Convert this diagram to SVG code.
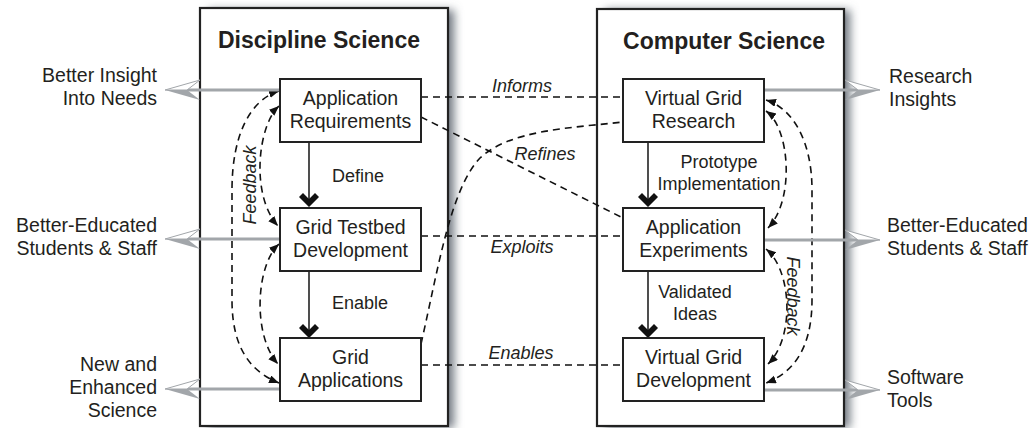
<svg xmlns="http://www.w3.org/2000/svg" xmlns:xlink="http://www.w3.org/1999/xlink" width="1032" height="428" viewBox="0 0 1032 428">
<style>
.outer{fill:#fff;stroke:#222;stroke-width:2.2}
.box{fill:#fff;stroke:#222;stroke-width:2}
.t{font-family:"Liberation Sans",Arial,sans-serif;font-size:19.5px;fill:#231f20}
.title{font-family:"Liberation Sans",Arial,sans-serif;font-size:23px;font-weight:bold;fill:#231f20;text-anchor:middle}
.lab{font-family:"Liberation Sans",Arial,sans-serif;font-size:18px;fill:#231f20}
.it{font-family:"Liberation Sans",Arial,sans-serif;font-size:18px;font-style:italic;fill:#231f20;text-anchor:middle}
.c{text-anchor:middle}
.e{text-anchor:end}
.dash{fill:none;stroke:#111;stroke-width:1.6;stroke-dasharray:7 5}
.fb{fill:none;stroke:#111;stroke-width:1.6;stroke-dasharray:7 5;marker-start:url(#ah);marker-end:url(#ah)}
.solid{stroke:#222;stroke-width:1.6}
.gray{stroke:#a2a6aa;stroke-width:3}
.chev{fill:#111}
</style>
<defs>
<filter id="sh" x="-10%" y="-10%" width="130%" height="120%"><feGaussianBlur stdDeviation="5"/></filter>
<marker id="ah" markerUnits="userSpaceOnUse" markerWidth="11" markerHeight="9" refX="10" refY="4" orient="auto-start-reverse"><path d="M0,0 L10,4 L0,8 z" fill="#111"/></marker>
<g id="gh"><polygon points="0,0 35,-10 22,0" fill="#fff" stroke="#a2a6aa" stroke-width="1"/><polygon points="0,0 22,0 35,10" fill="#a2a6aa"/></g>
</defs>
<g id="frames">
<rect x="208" y="10" width="246" height="418" fill="#6f7780" filter="url(#sh)"/>
<rect x="605" y="10" width="245" height="418" fill="#6f7780" filter="url(#sh)"/>
<rect class="outer" x="200" y="8" width="248" height="418"/>
<rect class="outer" x="597" y="9" width="247" height="417"/>
<text class="title" x="319" y="48">Discipline Science</text>
<text class="title" x="724" y="49">Computer Science</text>
</g>
<g id="connectors">
<line class="dash" x1="421" y1="97" x2="623" y2="97"/>
<line class="dash" x1="421" y1="117" x2="623" y2="218"/>
<path class="dash" d="M421,344 C438,270 450,190 480,158 C510,130 570,128 623,122"/>
<line class="dash" x1="421" y1="236" x2="623" y2="236"/>
<line class="dash" x1="421" y1="365" x2="623" y2="365"/>
<text class="it" x="522" y="92">Informs</text>
<text class="it" x="545" y="160">Refines</text>
<text class="it" x="522" y="253">Exploits</text>
<text class="it" x="521" y="359">Enables</text>
<line class="solid" x1="309" y1="142" x2="309" y2="204"/>
<polygon class="chev" points="299,197 303,193 309,199 315,193 319,197 309,207"/>
<line class="solid" x1="309" y1="271" x2="309" y2="334"/>
<polygon class="chev" points="299,328 303,324 309,330 315,324 319,328 309,338"/>
<line class="solid" x1="648" y1="142" x2="648" y2="204"/>
<polygon class="chev" points="638,197 642,193 648,199 654,193 658,197 648,207"/>
<line class="solid" x1="648" y1="271" x2="648" y2="334"/>
<polygon class="chev" points="638,328 642,324 648,330 654,324 658,328 648,338"/>
<text class="lab" x="332" y="182">Define</text>
<text class="lab" x="332" y="309">Enable</text>
<text class="lab c" x="719" y="168">Prototype</text>
<text class="lab c" x="719" y="190">Implementation</text>
<text class="lab c" x="695" y="298">Validated</text>
<text class="lab c" x="695" y="320">Ideas</text>
<path class="fb" d="M279,91 C250,100 232,135 232,190 L232,300 C232,350 252,372 279,383"/>
<path class="fb" d="M279,106 C258,125 250,195 278,226"/>
<path class="fb" d="M279,244 C256,265 252,335 278,364"/>
<path class="fb" d="M766,100 C792,108 812,140 812,190 L812,300 C812,350 792,373 766,383"/>
<path class="fb" d="M766,111 C790,128 795,200 768,228"/>
<path class="fb" d="M766,249 C792,270 795,338 768,364"/>
<text class="lab" font-style="italic" text-anchor="middle" transform="translate(256,185) rotate(-90)">Feedback</text>
<text class="lab" font-style="italic" text-anchor="middle" transform="translate(787,296) rotate(90)">Feedback</text>
<line class="gray" x1="186" y1="90" x2="280" y2="90"/>
<use xlink:href="#gh" x="165" y="90"/>
<line class="gray" x1="186" y1="239" x2="280" y2="239"/>
<use xlink:href="#gh" x="165" y="239"/>
<line class="gray" x1="186" y1="389" x2="280" y2="389"/>
<use xlink:href="#gh" x="165" y="389"/>
<line class="gray" x1="764" y1="90" x2="859" y2="90"/>
<use xlink:href="#gh" transform="translate(880,90) scale(-1,1)"/>
<line class="gray" x1="764" y1="240" x2="859" y2="240"/>
<use xlink:href="#gh" transform="translate(880,240) scale(-1,1)"/>
<line class="gray" x1="764" y1="390" x2="859" y2="390"/>
<use xlink:href="#gh" transform="translate(880,390) scale(-1,1)"/>
</g>
<g id="appreq"><rect class="box" x="280" y="79" width="141" height="63"/><text class="t c" x="350.5" y="105">Application</text><text class="t c" x="350.5" y="128">Requirements</text></g>
<g id="testbed"><rect class="box" x="280" y="208" width="141" height="63"/><text class="t c" x="350.5" y="234">Grid Testbed</text><text class="t c" x="350.5" y="257">Development</text></g>
<g id="gridapps"><rect class="box" x="280" y="338" width="141" height="63"/><text class="t c" x="350.5" y="364">Grid</text><text class="t c" x="350.5" y="387">Applications</text></g>
<g id="vgresearch"><rect class="box" x="623" y="79" width="141" height="63"/><text class="t c" x="693.5" y="105">Virtual Grid</text><text class="t c" x="693.5" y="128">Research</text></g>
<g id="appexp"><rect class="box" x="623" y="208" width="141" height="63"/><text class="t c" x="693.5" y="234">Application</text><text class="t c" x="693.5" y="257">Experiments</text></g>
<g id="vgdev"><rect class="box" x="623" y="338" width="141" height="63"/><text class="t c" x="693.5" y="364">Virtual Grid</text><text class="t c" x="693.5" y="387">Development</text></g>
<g id="out-left">
<text class="t e" x="157" y="82">Better Insight</text><text class="t e" x="157" y="105">Into Needs</text>
<text class="t e" x="157" y="232">Better-Educated</text><text class="t e" x="157" y="255">Students &amp; Staff</text>
<text class="t e" x="157" y="371">New and</text><text class="t e" x="157" y="394">Enhanced</text><text class="t e" x="157" y="417">Science</text>
</g>
<g id="out-right">
<text class="t" x="889" y="83">Research</text><text class="t" x="889" y="106">Insights</text>
<text class="t" x="887" y="232">Better-Educated</text><text class="t" x="887" y="255">Students &amp; Staff</text>
<text class="t" x="887" y="384">Software</text><text class="t" x="887" y="407">Tools</text>
</g>
</svg>
